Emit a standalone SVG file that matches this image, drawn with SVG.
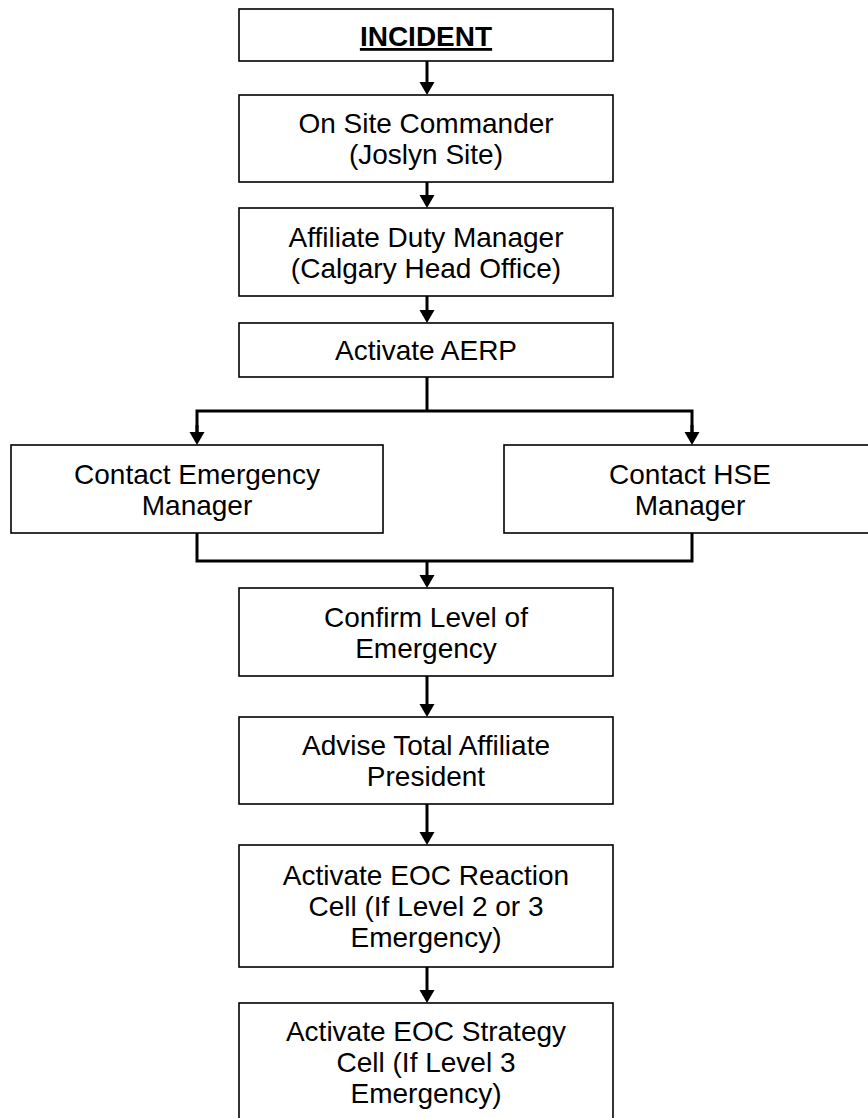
<svg xmlns="http://www.w3.org/2000/svg" width="868" height="1118" viewBox="0 0 868 1118">
  <style>
    .box { fill: #ffffff; stroke: #000000; stroke-width: 1.6; }
    .lbl { font-family: "Liberation Sans", Arial, sans-serif; font-size: 28px; fill: #000000; text-anchor: middle; }
    .title { font-weight: bold; text-decoration: underline; }
    .wire { fill: none; stroke: #000000; stroke-width: 3; stroke-linejoin: miter; }
  </style>
  <defs>
    <marker id="arrow" markerUnits="userSpaceOnUse" markerWidth="14" markerHeight="16" refX="5" refY="7.5" orient="auto">
      <path d="M0,0 L13,7.5 L0,15 Z" fill="#000000"/>
    </marker>
  </defs>

  <rect x="0" y="0" width="868" height="1118" fill="#ffffff"/>

  <!-- connectors -->
  <g id="connectors">
    <path class="wire" d="M427,61 V87" marker-end="url(#arrow)"/>
    <path class="wire" d="M427,182 V200" marker-end="url(#arrow)"/>
    <path class="wire" d="M427,296 V315" marker-end="url(#arrow)"/>
    <!-- split to the two contact steps -->
    <path class="wire" d="M427,377 V411"/>
    <path class="wire" d="M197,437 V411 H692 V437"/>
    <path class="wire" d="M197,425 V437" marker-end="url(#arrow)"/>
    <path class="wire" d="M692,425 V437" marker-end="url(#arrow)"/>
    <!-- merge back into the main column -->
    <path class="wire" d="M197,533 V561 H692 V533"/>
    <path class="wire" d="M427,561 V580" marker-end="url(#arrow)"/>
    <path class="wire" d="M427,676 V709" marker-end="url(#arrow)"/>
    <path class="wire" d="M427,804 V837" marker-end="url(#arrow)"/>
    <path class="wire" d="M427,967 V995" marker-end="url(#arrow)"/>
  </g>

  <g id="incident">
    <rect class="box" x="239" y="9" width="374" height="52"/>
    <text class="lbl title" x="426" y="46">INCIDENT</text>
  </g>

  <g id="on-site-commander">
    <rect class="box" x="239" y="95" width="374" height="87"/>
    <text class="lbl" x="426" y="133">On Site Commander</text>
    <text class="lbl" x="426" y="164">(Joslyn Site)</text>
  </g>

  <g id="affiliate-duty-manager">
    <rect class="box" x="239" y="208" width="374" height="88"/>
    <text class="lbl" x="426" y="247">Affiliate Duty Manager</text>
    <text class="lbl" x="426" y="278">(Calgary Head Office)</text>
  </g>

  <g id="activate-aerp">
    <rect class="box" x="239" y="323" width="374" height="54"/>
    <text class="lbl" x="426" y="360">Activate AERP</text>
  </g>

  <g id="contact-emergency-manager">
    <rect class="box" x="11" y="445" width="372" height="88"/>
    <text class="lbl" x="197" y="484">Contact Emergency</text>
    <text class="lbl" x="197" y="515">Manager</text>
  </g>

  <g id="contact-hse-manager">
    <rect class="box" x="504" y="445" width="372" height="88"/>
    <text class="lbl" x="690" y="484">Contact HSE</text>
    <text class="lbl" x="690" y="515">Manager</text>
  </g>

  <g id="confirm-level">
    <rect class="box" x="239" y="588" width="374" height="88"/>
    <text class="lbl" x="426" y="627">Confirm Level of</text>
    <text class="lbl" x="426" y="658">Emergency</text>
  </g>

  <g id="advise-president">
    <rect class="box" x="239" y="717" width="374" height="87"/>
    <text class="lbl" x="426" y="755">Advise Total Affiliate</text>
    <text class="lbl" x="426" y="786">President</text>
  </g>

  <g id="eoc-reaction-cell">
    <rect class="box" x="239" y="845" width="374" height="122"/>
    <text class="lbl" x="426" y="885">Activate EOC Reaction</text>
    <text class="lbl" x="426" y="916">Cell (If Level 2 or 3</text>
    <text class="lbl" x="426" y="947">Emergency)</text>
  </g>

  <g id="eoc-strategy-cell">
    <rect class="box" x="239" y="1003" width="374" height="122"/>
    <text class="lbl" x="426" y="1041">Activate EOC Strategy</text>
    <text class="lbl" x="426" y="1072">Cell (If Level 3</text>
    <text class="lbl" x="426" y="1103">Emergency)</text>
  </g>
</svg>
